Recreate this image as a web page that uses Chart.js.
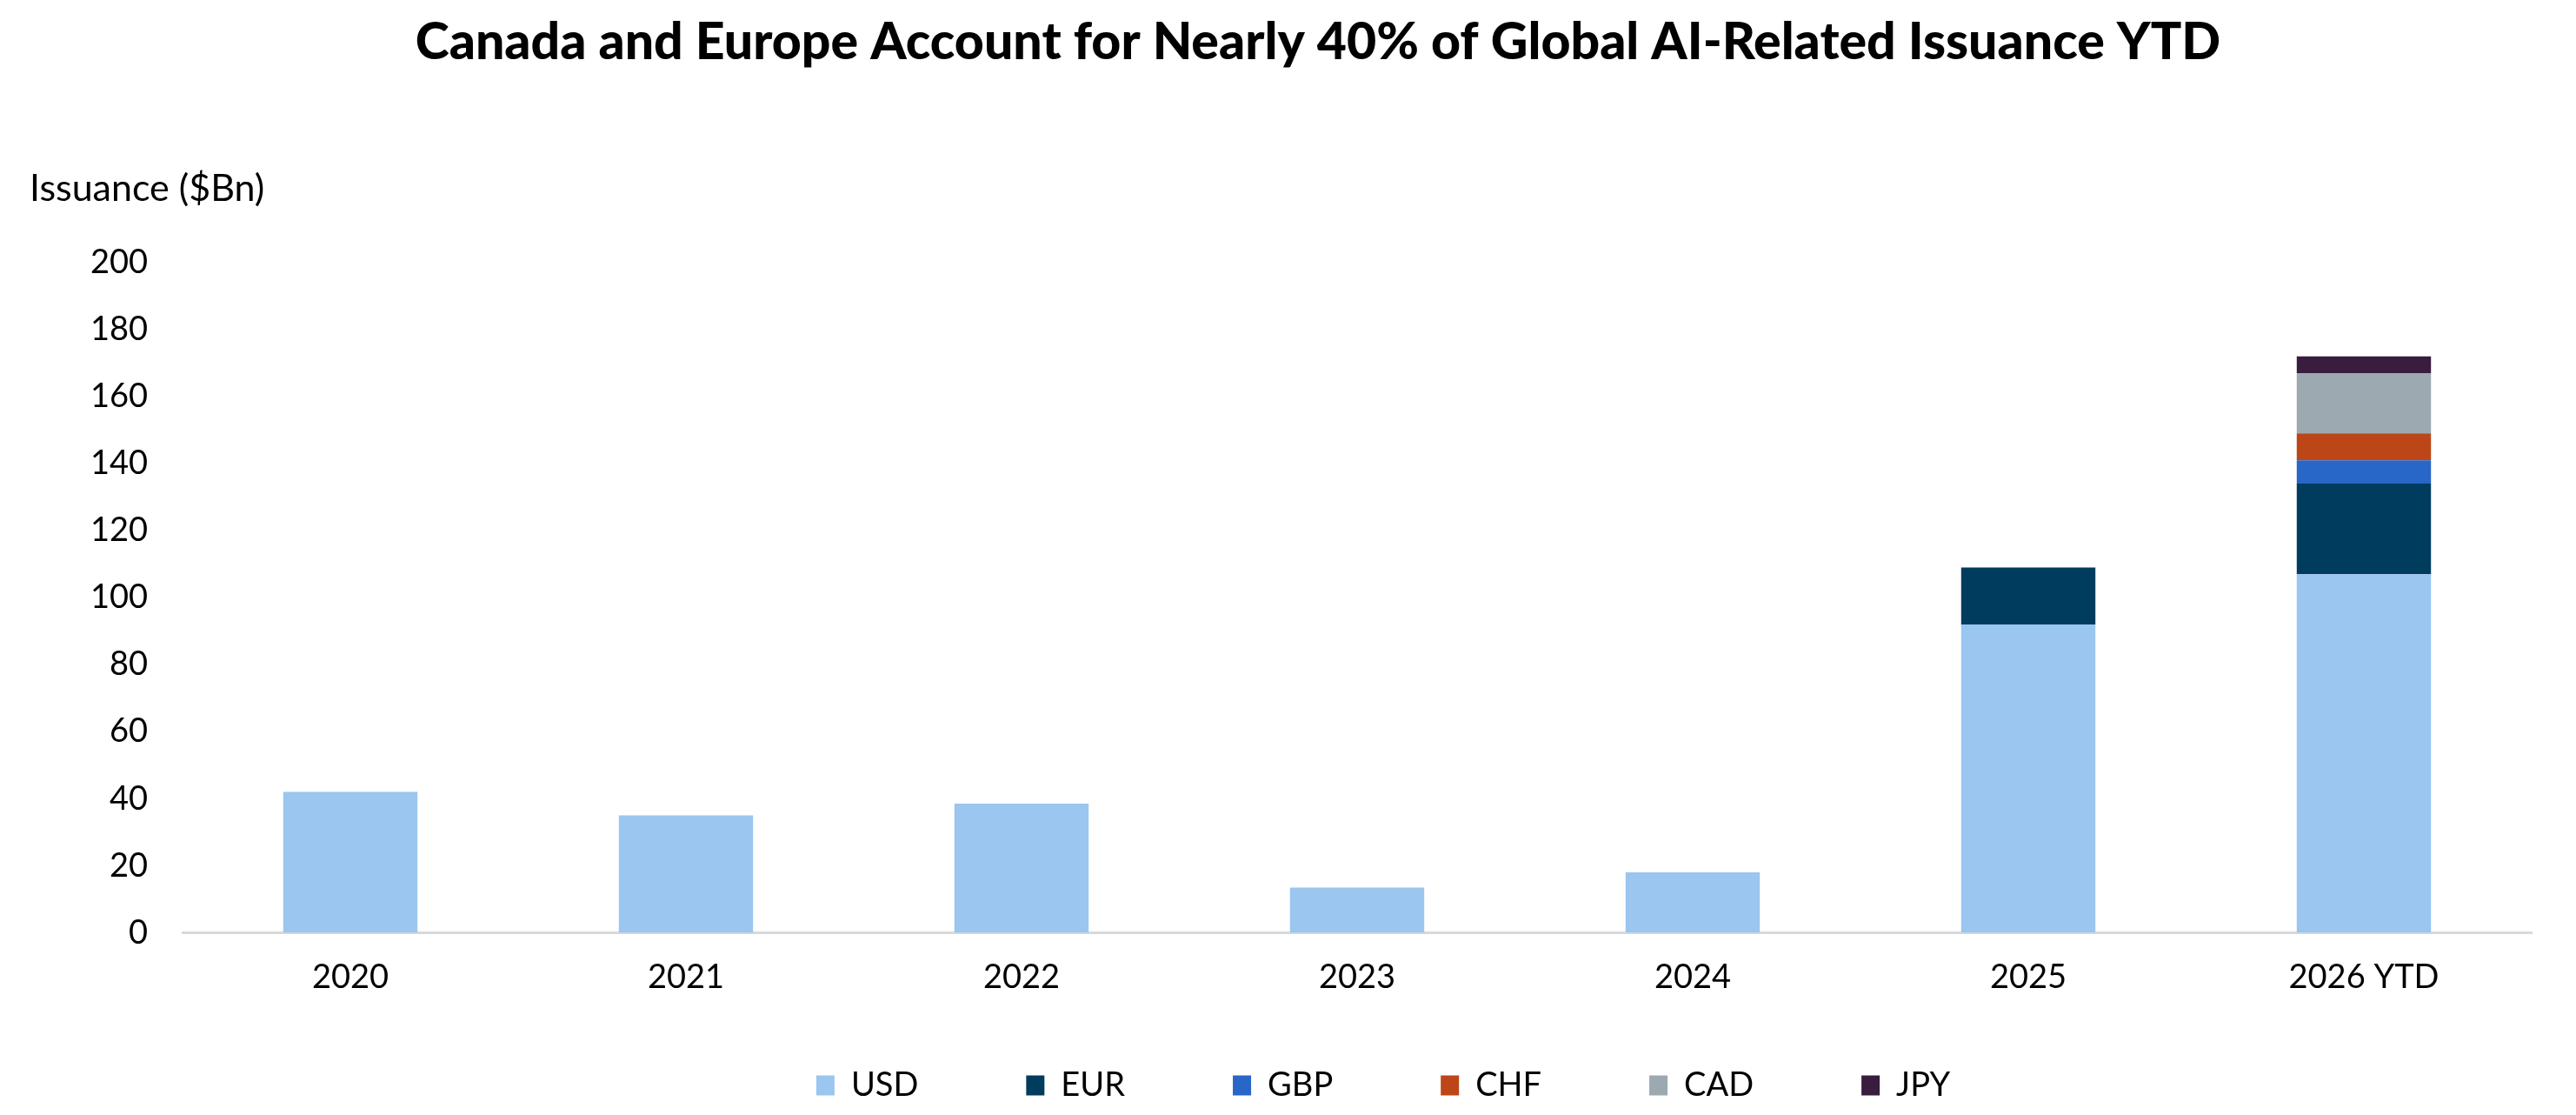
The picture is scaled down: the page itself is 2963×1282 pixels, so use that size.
<!doctype html>
<html lang="en">
<head>
    <meta charset="utf-8">
    <title>AI-Related Issuance</title>
    <script src="https://cdn.jsdelivr.net/npm/chart.js"></script>
    <style>
        body { margin: 0; background: #fff; }
        #chart { display: block; }
    </style>
</head>
<body>
    <canvas id="chart" width="2963" height="1282"></canvas>
    <script>
        // values, $Bn
        const years = ["2020", "2021", "2022", "2023", "2024", "2025", "2026 YTD"];
        const usd = [42, 35, 38.5, 13.5, 18, 92, 107];
        const eur = [0, 0, 0, 0, 0, 17, 27];
        const gbp = [0, 0, 0, 0, 0, 0, 7];
        const chf = [0, 0, 0, 0, 0, 0, 8];
        const cad = [0, 0, 0, 0, 0, 0, 18];
        const jpy = [0, 0, 0, 0, 0, 0, 5];

        const font_name = "Lato, 'Open Sans', sans-serif";

        const tweaks = {
            id: 'tweaks',
            afterLayout(chart) {
                // legend and title sit a bit right of the page centre
                chart.legend.left += 135;
                chart.legend.right += 135;
                chart.legend.top -= 63;
                chart.titleBlock.left += 60;
                chart.titleBlock.right += 60;
            },
            afterDraw(chart) {
                // axis caption above the y ticks, not rotated
                const ctx = chart.ctx;
                ctx.save();
                ctx.font = "43px " + font_name;
                ctx.fillStyle = "#000";
                ctx.textAlign = "left";
                ctx.textBaseline = "middle";
                ctx.fillText("Issuance ($Bn)", 34, 217);
                ctx.restore();
            }
        };

        function ds(label, data, color) {
            return {
                label: label,
                data: data,
                backgroundColor: color,
                borderWidth: 0,
                categoryPercentage: 1,
                barPercentage: 0.4
            };
        }

        new Chart(document.getElementById('chart'), {
            type: 'bar',
            data: {
                labels: years,
                datasets: [
                    ds("USD", usd, "#9ac6f0"),
                    ds("EUR", eur, "#003c5e"),
                    ds("GBP", gbp, "#2866c8"),
                    ds("CHF", chf, "#bc4618"),
                    ds("CAD", cad, "#9da9b1"),
                    ds("JPY", jpy, "#381d3e")
                ]
            },
            options: {
                responsive: false,
                animation: false,
                layout: { padding: { left: 0, right: 51, top: 0, bottom: 0 } },
                plugins: {
                    title: {
                        display: true,
                        text: "Canada and Europe Account for Nearly 40% of Global AI-Related Issuance YTD",
                        color: "#000",
                        font: { family: font_name, size: 59, weight: 900 },
                        padding: { top: 14, bottom: 217 }
                    },
                    legend: {
                        position: 'bottom',
                        maxHeight: 114,
                        labels: {
                            color: "#000",
                            font: { family: font_name, size: 38 },
                            boxWidth: 21,
                            boxHeight: 23,
                            padding: 124
                        }
                    },
                    tooltip: { enabled: false }
                },
                scales: {
                    x: {
                        stacked: true,
                        grid: { display: false },
                        border: { display: true, color: "#d9d9d9", width: 3 },
                        ticks: { color: "#000", font: { family: font_name, size: 38 }, padding: 21 }
                    },
                    y: {
                        stacked: true,
                        min: 0,
                        max: 200,
                        grid: { display: false, drawTicks: false },
                        border: { display: false },
                        ticks: { stepSize: 20, color: "#000", font: { family: font_name, size: 38 }, padding: 40 },
                        afterFit(scale) { scale.width = 210; }
                    }
                }
            },
            plugins: [tweaks]
        });
    </script>
</body>
</html>
